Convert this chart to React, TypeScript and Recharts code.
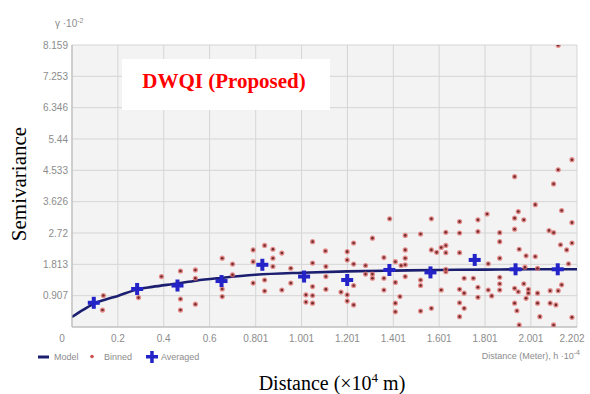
import { ComposedChart, Scatter, Line, XAxis, YAxis, CartesianGrid } from 'recharts';

// semivariance values are in units of 10^-2, distances in 10^4 m
const xTicks = [0, 0.2, 0.4, 0.6, 0.801, 1.001, 1.201, 1.401, 1.601, 1.801, 2.001, 2.202];
const yTicks = [0.907, 1.813, 2.72, 3.626, 4.533, 5.44, 6.346, 7.253, 8.159];

const modelDist = [0, 0.05, 0.1, 0.15, 0.2, 0.28, 0.35, 0.46, 0.54, 0.65, 0.8, 1.0, 1.2, 1.4, 1.6, 1.8, 2.0, 2.202];
const modelGamma = [0.29, 0.5, 0.69, 0.8, 0.9, 1.08, 1.16, 1.26, 1.34, 1.42, 1.51, 1.57, 1.61, 1.63, 1.65, 1.66, 1.67, 1.67];

const avgDist = [0.095, 0.284, 0.46, 0.652, 0.83, 1.012, 1.2, 1.384, 1.563, 1.756, 1.934, 2.118];
const avgGamma = [0.7, 1.1, 1.2, 1.33, 1.8, 1.46, 1.36, 1.65, 1.58, 1.94, 1.67, 1.67];

const binnedDist = [
  0.137, 0.133, 0.29, 0.39, 0.473, 0.538, 0.538, 0.473, 0.473, 0.538,
  0.655, 0.7, 0.7, 0.655, 0.655, 0.79, 0.84, 0.876, 0.915, 0.79,
  0.876, 0.876, 0.84, 0.79, 0.84, 0.915, 0.954, 0.954, 1.049, 1.049,
  1.049, 1.02, 1.049, 1.02, 1.049, 1.105, 1.107, 1.107, 1.107, 1.2,
  1.2, 1.228, 1.228, 1.2, 1.2, 1.228, 1.173, 1.228, 1.31, 1.28,
  1.28, 1.31, 1.31, 1.36, 1.36, 1.36, 1.385, 1.41, 1.41, 1.43,
  1.41, 1.41, 1.453, 1.453, 1.453, 1.453, 1.435, 1.453, 1.52, 1.52,
  1.52, 1.52, 1.567, 1.567, 1.59, 1.61, 1.63, 1.63, 1.567, 1.61,
  1.63, 2.02, 2.135, 2.18, 1.81, 1.946, 1.93, 1.97, 1.69, 1.77,
  1.69, 1.77, 1.865, 1.93, 2.08, 2.1, 1.865, 2.13, 2.18, 2.157,
  1.63, 1.69, 1.95, 1.98, 2.02, 1.865, 1.815, 2.165, 1.975, 2.03,
  1.63, 1.71, 1.75, 1.865, 1.865, 1.97, 2.135, 1.69, 1.71, 1.77,
  1.77, 1.815, 1.83, 1.865, 1.93, 1.946, 1.99, 1.99, 2.03, 2.085,
  2.12, 1.98, 2.03, 2.085, 2.11, 1.93, 1.69, 1.71, 1.69, 1.94,
  2.04, 2.18, 1.95, 2.1, 2.12, 2.18, 2.12, 2.1, 1.93,
];
const binnedGamma = [
  0.91, 0.49, 0.85, 1.46, 1.62, 1.65, 1.41, 0.81, 0.49, 0.66,
  1.99, 1.82, 1.51, 1.1, 0.88, 2.23, 2.36, 2.25, 2.14, 1.89,
  1.99, 1.75, 1.36, 1.27, 1.04, 1.07, 1.27, 1.7, 2.47, 1.85,
  1.17, 0.93, 0.91, 0.72, 0.69, 2.2, 1.75, 1.46, 1.09, 2.18,
  1.94, 2.43, 1.82, 0.93, 0.75, 0.64, 1.01, 1.2, 2.57, 1.78,
  1.53, 1.53, 1.41, 2.01, 1.41, 1.07, 3.13, 1.89, 1.29, 0.88,
  0.69, 0.44, 2.65, 2.23, 1.99, 1.8, 1.78, 1.46, 2.69, 1.36,
  1.2, 0.46, 3.13, 2.23, 2.16, 2.3, 2.36, 2.74, 0.54, 1.07,
  1.6, 3.54, 3.37, 3.02, 3.27, 3.34, 3.15, 3.1, 3.05, 3.1,
  2.72, 2.76, 2.73, 2.83, 2.79, 2.73, 2.47, 2.38, 2.43, 2.23,
  2.15, 2.15, 2.25, 2.06, 2.04, 1.99, 1.83, 1.83, 1.73, 1.7,
  1.67, 1.41, 1.41, 1.44, 1.25, 1.25, 1.22, 1.09, 0.98, 1.15,
  0.86, 1.07, 0.9, 1.07, 1.12, 1.02, 1.09, 0.98, 0.98, 1.05,
  1.05, 0.83, 0.69, 0.69, 0.64, 0.69, 0.7, 0.54, 0.3, 0.47,
  0.3, 0.28, 0.06, 0.06, 8.15, 4.84, 4.55, 4.14, 4.35,
];

const modelData = modelDist.map((x, i) => ({ x, y: modelGamma[i] }));
const avgData = avgDist.map((x, i) => ({ x, y: avgGamma[i] }));
const binnedData = binnedDist.map((x, i) => ({ x, y: binnedGamma[i] }));

const TICK_COLOR = '#8c8c8c';
const SANS = 'Liberation Sans, Arial, sans-serif';
const SERIF = 'Liberation Serif, Times New Roman, serif';

const BinnedDot = (props: any) => {
  const { cx, cy } = props;
  if (cx == null || cy == null) return null;
  return (
    <g>
      <circle cx={cx} cy={cy} r={2.6} fill="#e06a6a" opacity={0.75} />
      <circle cx={cx} cy={cy} r={1.3} fill="#6e2c2c" />
    </g>
  );
};

const AvgCross = (props: any) => {
  const { cx, cy } = props;
  if (cx == null || cy == null) return null;
  return (
    <g fill="#2323c8">
      <rect x={cx - 6} y={cy - 2} width={12} height={4} />
      <rect x={cx - 2} y={cy - 6} width={4} height={12} />
    </g>
  );
};

const XTick = (props: any) => {
  const { x, y, payload } = props;
  return (
    <text
      x={payload.value === 0 ? x - 10 : x}
      y={y}
      dy="0.71em"
      textAnchor="middle"
      fill={TICK_COLOR}
      fontSize={10}
      fontFamily={SANS}
    >
      {payload.value}
    </text>
  );
};

export default function App() {
  return (
    <div style={{ position: 'fixed', left: 0, top: 0, width: 590, height: 394, background: '#fff' }}>
      <ComposedChart width={590} height={394} margin={{ top: 45, right: 13, bottom: 47, left: 12 }}>
        <CartesianGrid stroke="#d5d5d5" fill="#f3f3f3" />
        <XAxis
          type="number"
          dataKey="x"
          domain={[0, 2.202]}
          ticks={xTicks}
          tick={<XTick />}
          tickLine={false}
          axisLine={{ stroke: '#b5b5b5' }}
          height={20}
          allowDataOverflow
        />
        <YAxis
          type="number"
          dataKey="y"
          domain={[0, 8.159]}
          ticks={yTicks}
          tickLine={false}
          tickSize={2}
          tickMargin={2}
          axisLine={{ stroke: '#b5b5b5' }}
          tick={{ fill: TICK_COLOR, fontSize: 10, fontFamily: SANS }}
          width={60}
          allowDataOverflow
        />
        <Scatter data={binnedData} shape={<BinnedDot />} isAnimationActive={false} />
        <Line
          data={modelData}
          dataKey="y"
          type="monotone"
          stroke="#1c1f70"
          strokeWidth={2.6}
          dot={false}
          activeDot={false}
          isAnimationActive={false}
        />
        <Scatter data={avgData} shape={<AvgCross />} isAnimationActive={false} />
      </ComposedChart>

      <svg width={590} height={394} style={{ position: 'absolute', left: 0, top: 0, pointerEvents: 'none' }}>
        {/* chart title box */}
        <rect x={122} y={59} width={208} height={51} fill="#ffffff" />
        <text x={224} y={88} textAnchor="middle" fill="#ff0000" fontSize={21} fontWeight="bold" fontFamily={SERIF}>
          DWQI (Proposed)
        </text>

        {/* unit note above the y axis */}
        <text x={55} y={27} fill={TICK_COLOR} fontSize={10} fontFamily={SANS}>
          γ ·10<tspan dy={-4} fontSize={7}>-2</tspan>
        </text>

        {/* legend */}
        <line x1={38} y1={357} x2={49} y2={357} stroke="#1c1f70" strokeWidth={3} />
        <text x={54} y={360} fill={TICK_COLOR} fontSize={9} fontFamily={SANS}>Model</text>
        <circle cx={92} cy={356.5} r={1.8} fill="#d05050" />
        <text x={104} y={360} fill={TICK_COLOR} fontSize={9} fontFamily={SANS}>Binned</text>
        <g fill="#2323c8">
          <rect x={146} y={355} width={12} height={3.5} />
          <rect x={150.2} y={351} width={3.5} height={12} />
        </g>
        <text x={161} y={360} fill={TICK_COLOR} fontSize={9} fontFamily={SANS}>Averaged</text>

        <text x={580} y={359} textAnchor="end" fill={TICK_COLOR} fontSize={9} fontFamily={SANS}>
          Distance (Meter), h ·10<tspan dy={-4} fontSize={7}>-4</tspan>
        </text>

        {/* axis titles */}
        <text
          transform="translate(26,184) rotate(-90)"
          textAnchor="middle"
          fill="#000"
          fontSize={21}
          fontFamily={SERIF}
        >
          Semivariance
        </text>
        <text x={332} y={390} textAnchor="middle" fill="#000" fontSize={20} fontFamily={SERIF}>
          Distance (×10<tspan dy={-8} fontSize={13}>4</tspan>
          <tspan dy={8}> m)</tspan>
        </text>
      </svg>
    </div>
  );
}
